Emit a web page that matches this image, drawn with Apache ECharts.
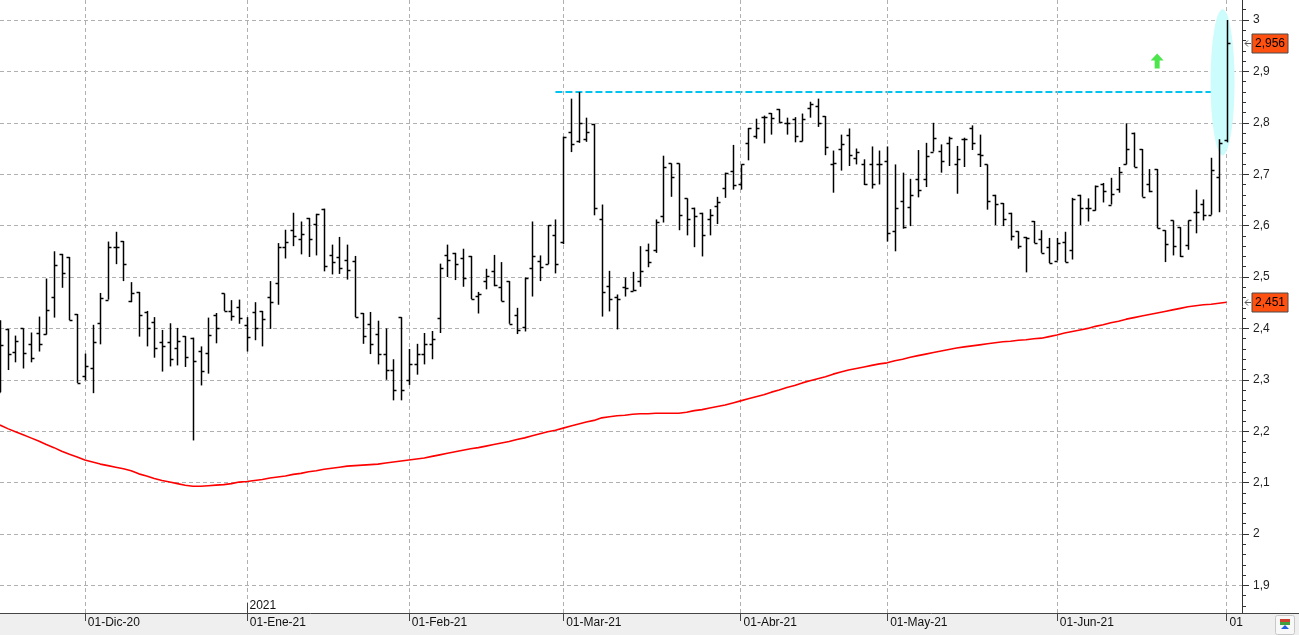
<!DOCTYPE html>
<html><head><meta charset="utf-8">
<script src="https://cdn.jsdelivr.net/npm/echarts@6/dist/echarts.min.js"></script>
<style>html,body{margin:0;padding:0;background:#fff;overflow:hidden}#c{width:1299px;height:635px}</style>
</head><body><div id="c"></div>
<script>
// ---- data ----
const startDate = '2020-11-16';
const endDate = '2021-07-05';
const holidays = ['2020-12-25', '2021-01-01', '2021-04-02', '2021-04-05'];
const monthNames = ['Ene','Feb','Mar','Abr','May','Jun','Jul','Ago','Sep','Oct','Nov','Dic'];

const openP = [
2.276,2.399,2.354,2.400,2.369,2.391,2.390,2.461,2.545,2.539,
2.428,2.308,2.323,2.410,2.456,2.559,2.570,2.453,2.471,2.431,
2.412,2.373,2.373,2.362,2.385,2.382,2.356,2.352,2.426,2.468,
2.434,2.442,2.406,2.432,2.434,2.461,2.489,2.558,2.592,2.573,
2.615,2.604,2.633,2.543,2.539,2.534,2.531,2.430,2.408,2.390,
2.350,2.320,2.422,2.300,2.330,2.350,2.370,2.420,2.542,2.547,
2.537,2.541,2.464,2.492,2.512,2.481,2.492,2.427,2.403,2.518,
2.532,2.525,2.582,2.568,2.782,2.764,2.769,2.798,2.612,2.482,
2.462,2.481,2.473,2.493,2.553,2.552,2.619,2.721,2.721,2.653,
2.635,2.625,2.612,2.639,2.673,2.707,2.680,2.761,2.774,2.811,
2.819,2.827,2.799,2.808,2.764,2.828,2.833,2.813,2.720,2.749,
2.777,2.731,2.720,2.720,2.720,2.725,2.590,2.647,2.636,2.691,
2.691,2.744,2.745,2.761,2.720,2.769,2.790,2.740,2.719,2.660,
2.644,2.625,2.589,2.578,2.609,2.573,2.558,2.532,2.569,2.553,
2.660,2.634,2.631,2.680,2.641,2.672,2.720,2.781,2.749,2.680,
2.710,2.591,2.610,2.597,2.563,2.627,2.642,2.621,2.694,2.766];
const highP = [
2.416,2.399,2.386,2.400,2.392,2.423,2.497,2.550,2.545,2.539,
2.428,2.351,2.407,2.469,2.569,2.588,2.570,2.490,2.471,2.434,
2.422,2.397,2.410,2.401,2.385,2.382,2.365,2.421,2.430,2.468,
2.455,2.456,2.422,2.451,2.434,2.492,2.566,2.592,2.625,2.608,
2.615,2.623,2.633,2.563,2.578,2.563,2.541,2.430,2.432,2.415,
2.400,2.340,2.422,2.360,2.370,2.391,2.395,2.526,2.563,2.547,
2.555,2.541,2.471,2.516,2.543,2.529,2.492,2.440,2.499,2.608,
2.542,2.601,2.612,2.773,2.847,2.860,2.810,2.798,2.641,2.512,
2.466,2.499,2.510,2.560,2.565,2.612,2.736,2.721,2.721,2.653,
2.635,2.625,2.632,2.656,2.703,2.757,2.719,2.790,2.808,2.814,
2.819,2.827,2.810,2.811,2.818,2.841,2.847,2.813,2.746,2.777,
2.789,2.750,2.729,2.754,2.746,2.754,2.719,2.703,2.691,2.747,
2.761,2.800,2.758,2.773,2.755,2.771,2.795,2.777,2.719,2.660,
2.644,2.625,2.589,2.578,2.609,2.591,2.576,2.576,2.588,2.654,
2.660,2.653,2.678,2.683,2.693,2.714,2.799,2.781,2.749,2.710,
2.710,2.591,2.610,2.597,2.610,2.670,2.651,2.732,2.768,3.000];
const lowP = [
2.276,2.319,2.334,2.322,2.334,2.355,2.388,2.421,2.479,2.416,
2.294,2.299,2.274,2.369,2.456,2.525,2.492,2.451,2.384,2.365,
2.343,2.316,2.326,2.328,2.325,2.182,2.289,2.312,2.371,2.434,
2.415,2.409,2.355,2.377,2.365,2.399,2.446,2.536,2.560,2.544,
2.539,2.542,2.511,2.505,2.506,2.495,2.422,2.370,2.350,2.330,
2.300,2.260,2.260,2.290,2.310,2.330,2.340,2.391,2.500,2.494,
2.481,2.457,2.429,2.476,2.482,2.453,2.409,2.389,2.394,2.462,
2.492,2.525,2.507,2.564,2.743,2.761,2.763,2.620,2.423,2.433,
2.398,2.462,2.473,2.481,2.519,2.547,2.606,2.656,2.591,2.581,
2.558,2.540,2.581,2.603,2.654,2.670,2.670,2.727,2.769,2.760,
2.777,2.800,2.777,2.762,2.764,2.810,2.792,2.737,2.664,2.707,
2.716,2.719,2.679,2.672,2.680,2.569,2.550,2.594,2.599,2.655,
2.675,2.744,2.703,2.716,2.662,2.714,2.747,2.714,2.631,2.601,
2.599,2.571,2.555,2.509,2.566,2.547,2.527,2.532,2.529,2.534,
2.601,2.608,2.629,2.645,2.641,2.664,2.719,2.714,2.656,2.665,
2.595,2.529,2.542,2.539,2.553,2.585,2.610,2.621,2.626,2.762];
const closeP = [
2.367,2.350,2.375,2.352,2.342,2.369,2.436,2.523,2.508,2.416,
2.294,2.326,2.373,2.459,2.559,2.559,2.526,2.469,2.426,2.401,
2.362,2.365,2.340,2.375,2.345,2.336,2.317,2.387,2.400,2.434,
2.425,2.421,2.383,2.401,2.419,2.451,2.558,2.568,2.579,2.584,
2.574,2.623,2.521,2.529,2.518,2.514,2.422,2.385,2.370,2.350,
2.320,2.280,2.280,2.330,2.350,2.370,2.380,2.518,2.533,2.525,
2.498,2.457,2.467,2.501,2.485,2.453,2.409,2.397,2.499,2.540,
2.520,2.601,2.525,2.773,2.758,2.800,2.782,2.634,2.471,2.457,
2.458,2.479,2.475,2.512,2.529,2.607,2.714,2.695,2.621,2.612,
2.619,2.581,2.621,2.646,2.703,2.679,2.719,2.790,2.789,2.812,
2.810,2.801,2.799,2.774,2.808,2.836,2.800,2.753,2.721,2.759,
2.738,2.744,2.681,2.681,2.719,2.586,2.634,2.597,2.660,2.670,
2.735,2.771,2.725,2.771,2.730,2.769,2.761,2.738,2.647,2.642,
2.612,2.579,2.560,2.576,2.566,2.547,2.527,2.566,2.529,2.652,
2.634,2.634,2.677,2.667,2.662,2.704,2.749,2.714,2.656,2.667,
2.595,2.564,2.561,2.540,2.610,2.627,2.621,2.709,2.761,2.956];
const movingAvg = [
2.212,2.205,2.199,2.193,2.187,2.181,2.174,2.168,2.161,2.155,
2.150,2.144,2.140,2.136,2.133,2.130,2.127,2.123,2.117,2.113,
2.108,2.104,2.101,2.098,2.095,2.093,2.093,2.094,2.095,2.096,
2.098,2.101,2.102,2.104,2.106,2.109,2.111,2.113,2.116,2.118,
2.121,2.123,2.126,2.128,2.130,2.132,2.133,2.134,2.135,2.136,
2.138,2.140,2.142,2.144,2.146,2.148,2.151,2.154,2.157,2.160,
2.163,2.166,2.168,2.171,2.174,2.177,2.180,2.184,2.187,2.191,
2.195,2.199,2.202,2.206,2.210,2.214,2.218,2.221,2.226,2.228,
2.230,2.231,2.233,2.234,2.234,2.235,2.235,2.235,2.235,2.237,
2.240,2.242,2.245,2.248,2.251,2.255,2.259,2.263,2.267,2.271,
2.276,2.280,2.285,2.289,2.294,2.298,2.302,2.306,2.311,2.315,
2.319,2.322,2.325,2.328,2.331,2.333,2.337,2.340,2.344,2.347,
2.350,2.353,2.356,2.359,2.362,2.364,2.366,2.368,2.370,2.372,
2.374,2.375,2.377,2.378,2.380,2.381,2.384,2.387,2.391,2.394,
2.397,2.400,2.404,2.407,2.411,2.414,2.418,2.421,2.424,2.427,
2.430,2.433,2.436,2.439,2.442,2.444,2.446,2.447,2.449,2.451];
const resistanceLevel = 2.86;
const resistanceFrom = '2021-02-26';
const resistanceTo = '2021-07-02';
const signalDate = '2021-06-18';
const signalValue = 2.92;
const highlightDate = '2021-07-01';
const highlightValue = 2.879;
const yearMarkLabel = '2021';

// ---- categories (trading days) ----
const categories = [];
(function () {
  let d = new Date(startDate + 'T00:00:00Z');
  const end = new Date(endDate + 'T00:00:00Z');
  while (d <= end) {
    const s = d.toISOString().slice(0, 10);
    const wd = d.getUTCDay();
    if (wd !== 0 && wd !== 6 && holidays.indexOf(s) < 0) categories.push(s);
    d = new Date(d.getTime() + 86400000);
  }
})();
function monthMark(i) {
  const c = categories[i], n = categories[i + 1];
  if (!c) return null;
  if (c.slice(8) === '01') return c;
  if (n && n.slice(5, 7) !== c.slice(5, 7) && n.slice(8) !== '01') return n.slice(0, 8) + '01';
  return null;
}
function markLabel(i) {
  const m = monthMark(i);
  if (!m) return '';
  if (i >= categories.length - 4) return m.slice(8);
  return m.slice(8) + '-' + monthNames[+m.slice(5, 7) - 1] + '-' + m.slice(2, 4);
}
const isMark = (i) => monthMark(i) !== null;
const fmtNum = (v, d) => String(+v.toFixed(d)).replace('.', ',');

const ohlc = openP.map((o, i) => [i, o, highP[i], lowP[i], closeP[i]]);
const FONT = 'Liberation Sans';

const chart = echarts.init(document.getElementById('c'), null, { renderer: 'canvas' });
const option = {
  animation: false,
  backgroundColor: '#ffffff',
  grid: [
    { left: 0, right: 57, top: -31.4, height: 668.2, outerBoundsMode: 'none', containLabel: false },
    { left: 0, right: 57, top: 0, height: 613, outerBoundsMode: 'none', containLabel: false }
  ],
  xAxis: [
    { type: 'category', gridIndex: 0, data: categories, boundaryGap: false, show: false },
    {
      type: 'category', gridIndex: 1, data: categories, boundaryGap: false, z: 10,
      axisLine: { lineStyle: { color: '#444', width: 1 } },
      axisTick: { interval: (i) => isMark(i), length: 8, lineStyle: { color: '#444' } },
      axisLabel: {
        interval: (i) => isMark(i), formatter: (v, i) => markLabel(i),
        align: 'left', padding: [0, 0, 0, 3], margin: 4, hideOverlap: false,
        fontFamily: FONT, fontSize: 12, color: '#111'
      },
      splitLine: { show: true, interval: (i) => isMark(i), lineStyle: { color: '#b0b0b0', type: [4, 3], width: 1 } }
    }
  ],
  yAxis: [
    {
      type: 'value', gridIndex: 0, position: 'right', min: 1.8, max: 3.1, interval: 0.1,
      axisLine: { show: false },
      axisTick: { show: true, length: 7, lineStyle: { color: '#333' } },
      minorTick: { show: true, splitNumber: 5, length: 4, lineStyle: { color: '#333' } },
      axisLabel: { margin: 11, fontFamily: FONT, fontSize: 12, color: '#222', formatter: (v) => fmtNum(v, 1) },
      splitLine: { show: true, lineStyle: { color: '#b0b0b0', type: [4, 3], width: 1 } }
    },
    {
      type: 'value', gridIndex: 1, position: 'right', min: 0, max: 1,
      axisLine: { show: true, lineStyle: { color: '#333', width: 1 } },
      axisTick: { show: false }, axisLabel: { show: false }, splitLine: { show: false }
    }
  ],
  series: [
    {
      type: 'scatter', xAxisIndex: 0, yAxisIndex: 0, z: 20, silent: true,
      symbol: 'circle', symbolSize: [24, 146], symbolOffset: [-4, 0],
      itemStyle: { color: '#ccfcfc', opacity: 1 },
      data: [[highlightDate, highlightValue]]
    },
    {
      type: 'custom', name: 'OHLC', xAxisIndex: 0, yAxisIndex: 0, z: 25,
      encode: { x: 0, y: [1, 2, 3, 4] },
      data: ohlc,
      renderItem: function (params, api) {
        const idx = api.value(0);
        const pH = api.coord([idx, api.value(2)]);
        const x = Math.round(pH[0]) + 0.5;
        const yL = api.coord([idx, api.value(3)])[1];
        const yO = Math.round(api.coord([idx, api.value(1)])[1]) + 0.5;
        const yC = Math.round(api.coord([idx, api.value(4)])[1]) + 0.5;
        const st = { stroke: '#000', lineWidth: 1.5 };
        return {
          type: 'group', children: [
            { type: 'line', shape: { x1: x, y1: pH[1], x2: x, y2: yL }, style: st },
            { type: 'line', shape: { x1: x - 3, y1: yO, x2: x, y2: yO }, style: st },
            { type: 'line', shape: { x1: x, y1: yC, x2: x + 3, y2: yC }, style: st }
          ]
        };
      }
    },
    {
      type: 'line', name: 'MA', xAxisIndex: 0, yAxisIndex: 0, z: 26,
      data: movingAvg, showSymbol: false, symbol: 'none',
      lineStyle: { color: '#ff0000', width: 1.6 }
    },
    {
      type: 'scatter', xAxisIndex: 0, yAxisIndex: 0, z: 30, silent: true,
      symbol: 'path://M6.5,0 L13,7 L9,7 L9,15 L4,15 L4,7 L0,7 Z', symbolSize: [13, 15],
      itemStyle: { color: '#1fe01f' },
      data: [[signalDate, signalValue]],
      markLine: {
        silent: true, symbol: ['none', 'none'], label: { show: false },
        lineStyle: { color: '#00c4f0', width: 2, type: [7, 3] },
        data: [[{ coord: [resistanceFrom, resistanceLevel] }, { coord: [resistanceTo, resistanceLevel] }]]
      }
    }
  ]
};
chart.setOption(option);

// ---- annotations positioned through the axes ----
const axisX = chart.convertToPixel({ xAxisIndex: 1 }, categories[categories.length - 1]);
const axisBottom = chart.convertToPixel({ yAxisIndex: 1 }, 0);
function valueTag(v) {
  const y = Math.round(chart.convertToPixel({ yAxisIndex: 0 }, v)) + 0.5;
  return [
    { type: 'polyline', z: 100, shape: { points: [[axisX + 6, y - 3], [axisX + 3, y], [axisX + 6, y + 3]] }, style: { stroke: '#555', lineWidth: 1, fill: null } },
    { type: 'line', z: 100, shape: { x1: axisX + 3, y1: y, x2: axisX + 9, y2: y }, style: { stroke: '#555', lineWidth: 1 } },
    { type: 'rect', z: 100, shape: { x: axisX + 10, y: y - 9.5, width: 36, height: 19 }, style: { fill: '#ff5010', stroke: '#4a4a4a', lineWidth: 1 } },
    { type: 'text', z: 101, x: axisX + 28, y: y + 0.5, style: { text: fmtNum(v, 3), fontFamily: FONT, fontSize: 12, fill: '#000', align: 'center', verticalAlign: 'middle' } }
  ];
}
const janIdx = categories.findIndex((c, i) => { const m = monthMark(i); return m && m.slice(0, 4) === yearMarkLabel; });
const janX = Math.round(chart.convertToPixel({ xAxisIndex: 1 }, categories[janIdx])) + 0.5;
const W = chart.getWidth(), H = chart.getHeight();
chart.setOption({
  graphic: [
    { type: 'rect', z: 5, shape: { x: 0, y: axisBottom + 0.5, width: W, height: H - axisBottom }, style: { fill: '#efefef' } },
    { type: 'line', z: 11, shape: { x1: axisX, y1: axisBottom + 0.5, x2: W, y2: axisBottom + 0.5 }, style: { stroke: '#444', lineWidth: 1 } },
    { type: 'line', z: 11, shape: { x1: janX, y1: axisBottom - 10, x2: janX, y2: axisBottom }, style: { stroke: '#444', lineWidth: 1 } },
    { type: 'text', z: 11, x: janX + 2, y: axisBottom - 1, style: { text: yearMarkLabel, fontFamily: FONT, fontSize: 12, fill: '#111', verticalAlign: 'bottom' } },
    { type: 'rect', z: 11, shape: { x: W - 23.5, y: axisBottom + 2.5, width: 19, height: 19, r: 2 }, style: { fill: '#f8f8f8', stroke: '#c8c8c8' } },
    { type: 'rect', z: 12, shape: { x: W - 19, y: axisBottom + 6, width: 10, height: 3 }, style: { fill: '#d04030' } },
    { type: 'rect', z: 12, shape: { x: W - 19, y: axisBottom + 9, width: 10, height: 3 }, style: { fill: '#40a040' } },
    { type: 'polygon', z: 12, shape: { points: [[W - 14, axisBottom + 12], [W - 10, axisBottom + 16], [W - 18, axisBottom + 16]] }, style: { fill: '#2060e0' } }
  ].concat(valueTag(closeP[closeP.length - 1]), valueTag(movingAvg[movingAvg.length - 1]))
});
</script>
</body></html>
